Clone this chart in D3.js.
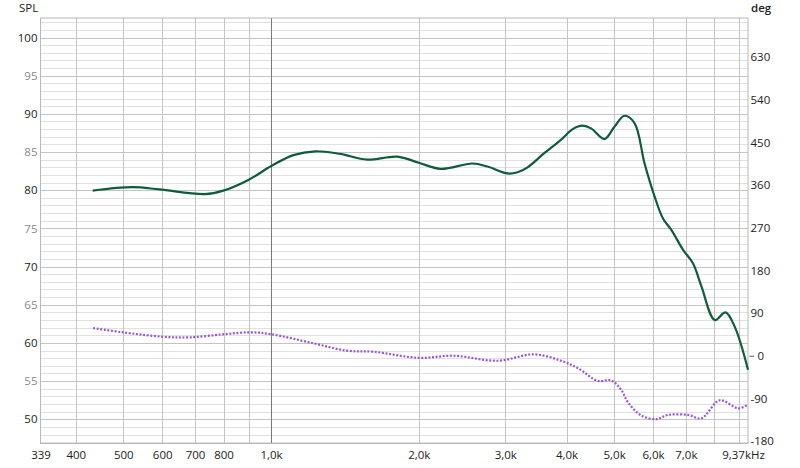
<!DOCTYPE html>
<html>
<head>
<meta charset="utf-8">
<script src="https://cdn.jsdelivr.net/npm/d3@7"></script>
<style>
  body { margin: 0; background: #fff; }
  text { font-family: "Open Sans", "Noto Sans", sans-serif; }
</style>
</head>
<body>
<div id="chart"></div>
<script>
// SPL curve, [Hz, dB]
const splData = [
  [433, 79.95], [522, 80.4], [593, 80.1], [733, 79.5], [799, 79.95], [899, 81.35],
  [1003, 83.2], [1110, 84.6], [1230, 85.1], [1384, 84.75], [1569, 84.0], [1807, 84.4],
  [2000, 83.6], [2215, 82.8], [2572, 83.5], [2760, 83.1], [3031, 82.2], [3178, 82.35],
  [3332, 83.0], [3602, 84.85], [3896, 86.6], [4117, 88.0], [4315, 88.45], [4487, 88.1],
  [4778, 86.7], [5007, 88.3], [5248, 89.75], [5502, 88.8], [5768, 83.5], [6044, 79.2],
  [6288, 76.3], [6539, 74.8], [6909, 72.2], [7241, 70.4], [7531, 67.4], [8017, 63.0],
  [8431, 64.0], [8807, 62.1], [9370, 56.5]
];
// phase curve, [Hz, deg]
const phaseData = [
  [434, 58.5], [499, 49.4], [602, 40.1], [683, 38.8], [799, 45.2], [906, 49.4],
  [1003, 45.2], [1220, 26.2], [1428, 10.6], [1618, 8.4], [2000, -4.5], [2358, 0],
  [2893, -10.6], [3436, 2.9], [3896, -10.6], [4230, -27], [4630, -53], [4930, -52],
  [5168, -72], [5333, -98], [5677, -126], [6093, -134], [6438, -125], [7072, -125],
  [7531, -132], [8208, -94], [8950, -111], [9370, -103]
];

const freqTicks = [339, 400, 500, 600, 700, 800, 1000, 2000, 3000, 4000, 5000, 6000, 7000, 9370];
const freqLabels = ["339", "400", "500", "600", "700", "800", "1,0k", "2,0k", "3,0k", "4,0k", "5,0k", "6,0k", "7,0k", "9,37kHz"];
const freqGrid = [400, 500, 600, 700, 800, 900, 1000, 2000, 3000, 4000, 5000, 6000, 7000, 8000, 9000];
const splTicks = [50, 55, 60, 65, 70, 75, 80, 85, 90, 95, 100];
const degTicks = [-180, -90, 0, 90, 180, 270, 360, 450, 540, 630];

const W = 800, H = 468;
const pLeft = 40.5, pRight = 748, pTop = 18, pBottom = 443.5;

const svg = d3.select("#chart").append("svg").attr("width", W).attr("height", H);

const x = d3.scaleLog().domain([339, 9370]).range([pLeft, pRight]);
const y = d3.scaleLinear().domain([50, 100]).range([419.3, 37.5]);
const yDeg = d3.scaleLinear().domain([-180, 630]).range([441, 57.3]);

// horizontal grid, every 1 dB
const minor = d3.range(Math.ceil(y.invert(pBottom)), Math.floor(y.invert(pTop)) + 1);
svg.append("g").selectAll("line").data(minor).enter().append("line")
  .attr("x1", pLeft).attr("x2", pRight)
  .attr("y1", d => Math.round(y(d)) + 0.5).attr("y2", d => Math.round(y(d)) + 0.5)
  .attr("stroke", d => d % 5 === 0 ? "#c4c4c4" : "#e0e0e0")
  .attr("stroke-width", 1);

// vertical grid
svg.append("g").selectAll("line").data(freqGrid).enter().append("line")
  .attr("x1", d => Math.round(x(d)) + 0.5).attr("x2", d => Math.round(x(d)) + 0.5)
  .attr("y1", pTop).attr("y2", pBottom)
  .attr("stroke", d => d === 1000 ? "#7a7a7a" : "#c4c4c4")
  .attr("stroke-width", 1);

// frame
svg.append("rect").attr("x", pLeft).attr("y", pTop)
  .attr("width", pRight - pLeft).attr("height", pBottom - pTop)
  .attr("fill", "none").attr("stroke", "#b8b8b8");

// axes
const gx = svg.append("g").attr("transform", `translate(0,${pBottom})`)
  .call(d3.axisBottom(x).tickValues(freqTicks).tickSize(0).tickPadding(7)
    .tickFormat((d, i) => freqLabels[i]));
gx.select(".domain").remove();
gx.selectAll("text").attr("font-size", 11.5).attr("fill", "#222")
  .attr("dx", (d, i) => i === freqTicks.length - 1 ? -5 : 0);

const gy = svg.append("g").attr("transform", `translate(${pLeft - 3},0)`)
  .call(d3.axisLeft(y).tickValues(splTicks).tickSize(0).tickPadding(0));
gy.select(".domain").remove();
gy.selectAll("text").attr("font-size", 11.5)
  .attr("fill", d => d % 10 === 0 ? "#222" : "#8a8a8a");

const gr = svg.append("g").attr("transform", `translate(${pRight},0)`)
  .call(d3.axisRight(yDeg).tickValues(degTicks).tickSize(0).tickPadding(2.5)
    .tickFormat(d => d < 0 ? "-" + Math.abs(d) : d));
gr.select(".domain").remove();
gr.selectAll("text").attr("font-size", 11.5).attr("fill", "#222")
  .attr("dx", d => d === 0 ? 7 : 0);
gr.selectAll(".tick").filter(d => d === 0).append("line")
  .attr("x1", 1.5).attr("x2", 6).attr("stroke", "#555");

// titles
svg.append("text").attr("x", 19).attr("y", 12).attr("font-size", 11.5)
  .attr("fill", "#222").text("SPL");
svg.append("text").attr("x", 751).attr("y", 12).attr("font-size", 11.5)
  .attr("font-weight", 600).attr("fill", "#222").text("deg");

// curves
const splLine = d3.line().x(d => x(d[0])).y(d => y(d[1])).curve(d3.curveCatmullRom.alpha(0.5));
const phaseLine = d3.line().x(d => x(d[0])).y(d => yDeg(d[1])).curve(d3.curveCatmullRom.alpha(0.5));

svg.append("path").datum(phaseData).attr("d", phaseLine)
  .attr("fill", "none").attr("stroke", "#9b55d6").attr("stroke-width", 2.2)
  .attr("stroke-dasharray", "2 1.6");

svg.append("path").datum(splData).attr("d", splLine)
  .attr("fill", "none").attr("stroke", "#0f5c3b").attr("stroke-width", 2.2);
</script>
</body>
</html>
